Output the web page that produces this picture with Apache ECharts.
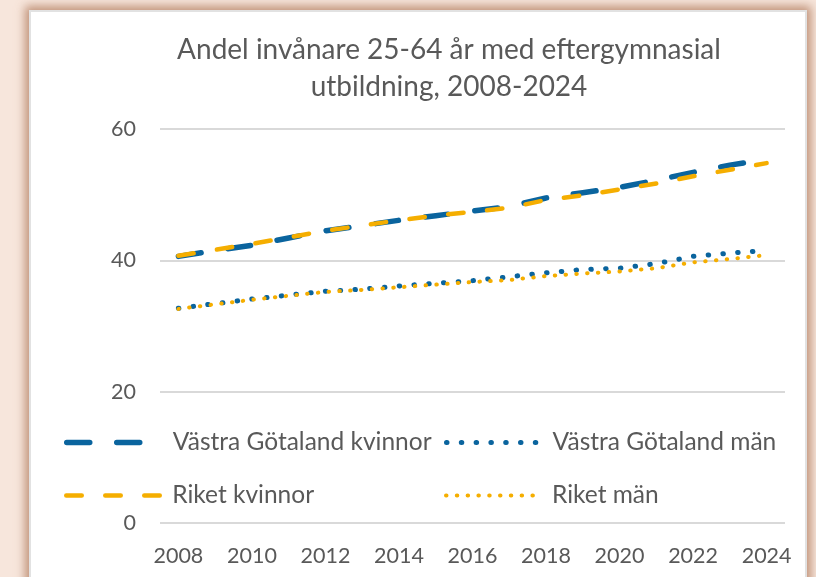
<!DOCTYPE html>
<html>
<head>
<meta charset="utf-8">
<script src="https://cdn.jsdelivr.net/npm/echarts@6/dist/echarts.min.js"></script>
<style>
  html, body { margin: 0; padding: 0; background: #f7e6dc; overflow: hidden; }
  #panel {
    position: absolute; left: 29px; top: 10px; width: 778px; height: 620px;
    background: #fff; border: 2px solid #e2e2e2; box-sizing: border-box;
    box-shadow: 0 0 9px 4px rgba(175, 120, 90, 0.75);
  }
  #main { position: absolute; left: 0; top: 0; width: 816px; height: 577px; }
</style>
</head>
<body>
<div id="panel"></div>
<div id="main"></div>
<script>
// data
const years = ['2008', '2009', '2010', '2011', '2012', '2013', '2014', '2015', '2016',
    '2017', '2018', '2019', '2020', '2021', '2022', '2023', '2024'];
const vgKvinnor = [40.6, 41.5, 42.3, 43.4, 44.5, 45.3, 46.1, 46.8, 47.5, 48.2, 49.5, 50.3, 51.1, 52.2, 53.4, 54.5, 55.4];
const vgMan = [32.7, 33.4, 34.1, 34.7, 35.3, 35.6, 36.1, 36.5, 36.9, 37.5, 38.1, 38.6, 38.8, 39.5, 40.6, 41.1, 41.5];
const riketKvinnor = [40.7, 41.6, 42.5, 43.5, 44.5, 45.3, 46.1, 46.8, 47.4, 48.0, 49.2, 49.9, 50.8, 51.7, 52.8, 53.8, 54.8];
const riketMan = [32.6, 33.3, 34.0, 34.6, 35.2, 35.5, 35.9, 36.3, 36.7, 37.0, 37.6, 38.0, 38.3, 38.8, 39.7, 40.2, 40.8];
const names = ['Västra Götaland kvinnor', 'Västra Götaland män', 'Riket kvinnor', 'Riket män'];

const BLUE = '#0a649e';
const YELLOW = '#f5ae00';
const FONT = 'Lato';
const TEXT = '#595959';

const chart = echarts.init(document.getElementById('main'), null, { renderer: 'canvas' });

// stilar per serie (rundade ändar förlänger varje streck med linjebredden)
const styles = [
    { color: BLUE, width: 5.5, type: [23, 27] },
    { color: BLUE, width: 5, type: [0.5, 14.3] },
    { color: YELLOW, width: 4.5, type: [15.5, 23.5] },
    { color: YELLOW, width: 4, type: [0.5, 10.3] }
];
const values = [vgKvinnor, vgMan, riketKvinnor, riketMan];

const series = names.map(function (name, i) {
    return {
        name: name,
        type: 'line',
        data: values[i],
        symbol: 'none',
        silent: true,
        lineStyle: {
            color: styles[i].color,
            width: styles[i].width,
            type: styles[i].type,
            cap: 'round'
        },
        itemStyle: { color: styles[i].color }
    };
});

// en legend per post, två kolumner
const legendPos = [[64, 430], [444, 430], [64, 483], [444, 483]];
const legends = names.map(function (name, i) {
    return {
        data: [name],
        left: legendPos[i][0],
        top: legendPos[i][1],
        padding: 0,
        itemWidth: 95,
        itemHeight: 14,
        itemGap: 0,
        selectedMode: false,
        textStyle: { color: TEXT, fontFamily: FONT, fontSize: 24.5, padding: [0, 0, 0, 6] },
        // bara linjen i ikonen, ingen symbol
        itemStyle: { opacity: 0 },
        lineStyle: {
            color: styles[i].color,
            width: styles[i].width,
            type: styles[i].type,
            cap: 'round'
        }
    };
});

const option = {
    animation: false,
    backgroundColor: 'rgba(0,0,0,0)',
    title: {
        text: 'Andel invånare 25-64 år med eftergymnasial\nutbildning, 2008-2024',
        left: 449,
        top: 31,
        padding: 0,
        textAlign: 'center',
        textStyle: {
            color: TEXT,
            fontFamily: FONT,
            fontSize: 28,
            fontWeight: 'normal',
            lineHeight: 37
        }
    },
    legend: legends,
    grid: { left: 160, right: 31, top: 129, bottom: 54, containLabel: false },
    xAxis: {
        type: 'category',
        data: years,
        boundaryGap: true,
        axisLine: { show: false },
        axisTick: { show: false },
        axisLabel: {
            interval: 1,
            color: TEXT,
            fontFamily: FONT,
            fontSize: 21.5,
            margin: 22
        }
    },
    yAxis: {
        type: 'value',
        min: 0,
        max: 60,
        interval: 20,
        axisLine: { show: false },
        axisTick: { show: false },
        splitLine: { lineStyle: { color: '#d9d9d9', width: 2 } },
        axisLabel: {
            color: TEXT,
            fontFamily: FONT,
            fontSize: 21.5,
            margin: 24
        }
    },
    series: series
};

chart.setOption(option);
</script>
</body>
</html>
